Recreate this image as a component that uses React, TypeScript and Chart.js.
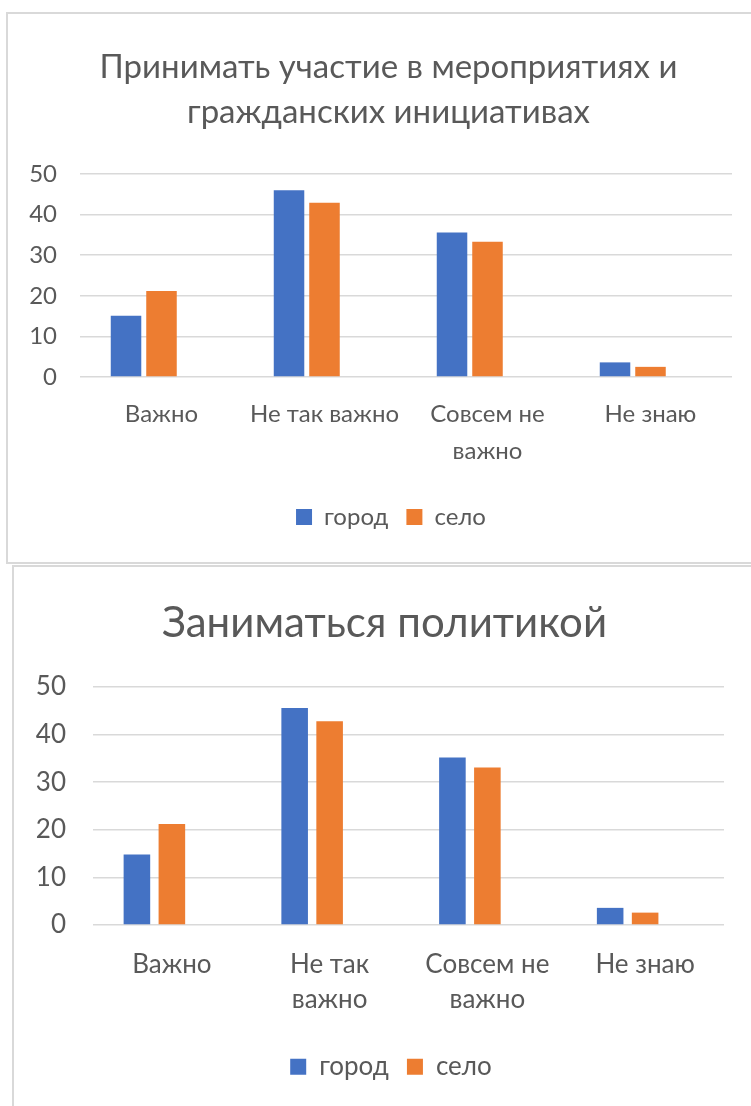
import React, { useEffect, useRef } from 'react';
import { Chart, registerables } from 'chart.js';

Chart.register(...registerables);

// ---------- data ----------
const seriesNames = ['город', 'село'];
const yTicks = [0, 10, 20, 30, 40, 50];

const chart1Title = ['Принимать участие в мероприятиях и', 'гражданских инициативах'];
const chart1Categories: (string | string[])[] = ['Важно', 'Не так важно', ['Совсем не', 'важно'], 'Не знаю'];
const chart1City = [15.1, 46.0, 35.6, 3.6];
const chart1Village = [21.2, 42.9, 33.3, 2.5];

const chart2Title = 'Заниматься политикой';
const chart2Categories: (string | string[])[] = ['Важно', ['Не так', 'важно'], ['Совсем не', 'важно'], 'Не знаю'];
const chart2City = [14.8, 45.6, 35.2, 3.6];
const chart2Village = [21.2, 42.8, 33.1, 2.6];

// ---------- styles ----------
const BLUE = '#4472C4';
const ORANGE = '#ED7D31';
const TEXT = '#595959';
const GRID = '#d9d9d9';
const FONT = "Lato, 'Noto Sans', sans-serif";

type Spec = {
  title: string | string[];
  categories: (string | string[])[];
  city: number[];
  village: number[];
  width: number;
  height: number;
  titleSize: number;
  titleLH: number;
  titlePadTop: number;
  titlePadBottom: number;
  titleShift: number;
  legendShift: number;
  labelSize: number;
  xLH: number;
  xPad: number;
  xHeight: number;
  yWidth: number;
  yPad: number;
  padRight: number;
  padBottom: number;
  legendPad: number;
  catPct: number;
  barPct: number;
};

// Shifts the title / legend boxes horizontally (the original chart centers them on a wider frame)
const shiftBlocks = {
  id: 'shiftBlocks',
  afterLayout(chart: any, _args: any, opts: any) {
    const t = chart.titleBlock;
    if (t && opts.title) { t.left += opts.title; t.right += opts.title; }
    const l = chart.legend;
    if (l && opts.legend) { l.left += opts.legend; l.right += opts.legend; }
  },
};

function buildConfig(s: Spec): any {
  return {
    type: 'bar',
    data: {
      labels: s.categories,
      datasets: [
        { label: seriesNames[0], data: s.city, backgroundColor: BLUE, categoryPercentage: s.catPct, barPercentage: s.barPct },
        { label: seriesNames[1], data: s.village, backgroundColor: ORANGE, categoryPercentage: s.catPct, barPercentage: s.barPct },
        { label: '', data: s.city.map(() => null), backgroundColor: 'rgba(0,0,0,0)', categoryPercentage: s.catPct, barPercentage: s.barPct },
      ],
    },
    plugins: [shiftBlocks],
    options: {
      responsive: false,
      animation: false,
      devicePixelRatio: 1,
      layout: { padding: { left: 0, right: s.padRight, top: 0, bottom: s.padBottom } },
      plugins: {
        shiftBlocks: { title: s.titleShift, legend: s.legendShift },
        title: {
          display: true,
          text: s.title,
          color: TEXT,
          font: { family: FONT, size: s.titleSize, weight: 'normal', lineHeight: s.titleLH },
          padding: { top: s.titlePadTop, bottom: s.titlePadBottom },
        },
        legend: {
          display: true,
          position: 'bottom',
          labels: {
            color: TEXT,
            font: { family: FONT, size: s.labelSize },
            boxWidth: 16,
            boxHeight: 16,
            padding: s.legendPad,
            filter: (item: any) => item.datasetIndex < 2,
          },
        },
        tooltip: { enabled: false },
      },
      scales: {
        x: {
          grid: { display: false, drawTicks: false },
          border: { display: false },
          ticks: {
            color: TEXT,
            font: { family: FONT, size: s.labelSize, lineHeight: s.xLH },
            padding: s.xPad,
            maxRotation: 0,
            autoSkip: false,
          },
          afterFit: (scale: any) => { scale.height = s.xHeight; },
        },
        y: {
          min: yTicks[0],
          max: yTicks[yTicks.length - 1],
          afterBuildTicks: (scale: any) => { scale.ticks = yTicks.map((v) => ({ value: v })); },
          grid: { color: GRID, lineWidth: 1.5, drawTicks: false },
          border: { display: false },
          ticks: {
            color: TEXT,
            font: { family: FONT, size: s.labelSize },
            padding: s.yPad,
          },
          afterFit: (scale: any) => { scale.width = s.yWidth; },
        },
      },
    },
  };
}

function ChartCanvas({ spec }: { spec: Spec }) {
  const ref = useRef<HTMLCanvasElement | null>(null);
  useEffect(() => {
    if (!ref.current) return;
    const chart = new Chart(ref.current, buildConfig(spec));
    return () => chart.destroy();
  }, [spec]);
  return <canvas ref={ref} width={spec.width} height={spec.height} style={{ display: 'block', width: spec.width, height: spec.height }} />;
}

const spec1: Spec = {
  title: chart1Title,
  categories: chart1Categories,
  city: chart1City,
  village: chart1Village,
  width: 743,
  height: 548,
  titleSize: 33,
  titleLH: 1.364,
  titlePadTop: 30.5,
  titlePadBottom: 39.5,
  titleShift: 18.5,
  legendShift: 21,
  labelSize: 24,
  xLH: 1.52,
  xPad: 19.5,
  xHeight: 110,
  yWidth: 72,
  yPad: 23,
  padRight: 19,
  padBottom: 23,
  legendPad: 18,
  catPct: 0.653,
  barPct: 0.86,
};

const spec2: Spec = {
  title: chart2Title,
  categories: chart2Categories,
  city: chart2City,
  village: chart2Village,
  width: 737,
  height: 539,
  titleSize: 42,
  titleLH: 1.2,
  titlePadTop: 30.8,
  titlePadBottom: 38.8,
  titleShift: 15.5,
  legendShift: 22,
  labelSize: 26,
  xLH: 1.346,
  xPad: 22.5,
  xHeight: 110.7,
  yWidth: 79,
  yPad: 27,
  padRight: 27,
  padBottom: 16.3,
  legendPad: 18,
  catPct: 0.665,
  barPct: 0.76,
};

export default function App() {
  useEffect(() => {
    document.documentElement.style.overflow = 'hidden';
    document.body.style.overflow = 'hidden';
  }, []);
  const border = `2px solid ${GRID}`;
  return (
    <div>
      <div
        style={{
          position: 'absolute',
          left: 6,
          top: 12,
          borderLeft: border,
          borderTop: border,
          borderBottom: border,
          width: spec1.width,
          height: spec1.height,
          background: '#fff',
        }}
      >
        <ChartCanvas spec={spec1} />
      </div>
      <div
        style={{
          position: 'absolute',
          left: 12,
          top: 565,
          borderLeft: border,
          borderTop: border,
          width: spec2.width,
          height: spec2.height,
          background: '#fff',
        }}
      >
        <ChartCanvas spec={spec2} />
      </div>
    </div>
  );
}
